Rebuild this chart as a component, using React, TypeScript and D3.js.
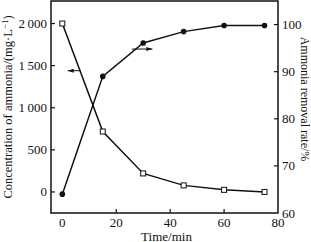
import { useEffect, useRef } from 'react';
import * as d3 from 'd3';

const times = [0, 15, 30, 45, 60, 75];
const concentration = [2000, 718, 220, 78, 25, 0];
const removalRate = [64, 89, 96.1, 98.5, 99.8, 99.8];
const xTicks = [0, 20, 40, 60, 80];
const leftTicks = [0, 500, 1000, 1500, 2000];
const rightTicks = [60, 70, 80, 90, 100];

const App = () => {
    const svgRef = useRef<SVGSVGElement>(null);
    const width = 311;
    const height = 242;
    const plot = { left: 51, right: 278, top: 1, bottom: 213 };

    useEffect(() => {
        const svg = d3.select(svgRef.current);
        svg.selectAll('*').remove();
        const font = '"Liberation Serif", "Times New Roman", serif';
        const ink = '#111';

        const x = d3.scaleLinear().domain([-4.2, 80]).range([plot.left, plot.right]);
        const yL = d3.scaleLinear().domain([-250, 2250]).range([plot.bottom, plot.top + 1.5]);
        const yR = d3.scaleLinear().domain([60, 105]).range([plot.bottom, plot.top]);

        svg.append('rect').attr('width', width).attr('height', height).attr('fill', '#fff');

        // frame
        svg.append('rect')
            .attr('x', plot.left).attr('y', plot.top)
            .attr('width', plot.right - plot.left).attr('height', plot.bottom - plot.top)
            .attr('fill', 'none').attr('stroke', ink).attr('stroke-width', 1.5);

        // x ticks
        xTicks.forEach(t => {
            if (t > 0 && t < 80) {
                svg.append('line').attr('x1', x(t)).attr('x2', x(t))
                    .attr('y1', plot.bottom).attr('y2', plot.bottom - 4)
                    .attr('stroke', ink).attr('stroke-width', 1.2);
            }
            svg.append('text').attr('x', x(t)).attr('y', plot.bottom + 14)
                .attr('text-anchor', 'middle').attr('font-family', font).attr('font-size', 13)
                .attr('fill', ink).text(t);
        });

        const fmt = (v: number) => v >= 1000 ? `${Math.floor(v / 1000)}\u2009${String(v % 1000).padStart(3, '0')}` : String(v);
        leftTicks.forEach(t => {
            svg.append('line').attr('x1', plot.left).attr('x2', plot.left + 4)
                .attr('y1', yL(t)).attr('y2', yL(t)).attr('stroke', ink).attr('stroke-width', 1.2);
            svg.append('text').attr('x', plot.left - 4).attr('y', yL(t) + 4.5)
                .attr('text-anchor', 'end').attr('font-family', font).attr('font-size', 13)
                .attr('fill', ink).text(fmt(t));
        });

        rightTicks.forEach(t => {
            if (t > 60) {
                svg.append('line').attr('x1', plot.right).attr('x2', plot.right - 4)
                    .attr('y1', yR(t)).attr('y2', yR(t)).attr('stroke', ink).attr('stroke-width', 1.2);
            }
            svg.append('text').attr('x', plot.right + 4).attr('y', yR(t) + 4.5)
                .attr('text-anchor', 'start').attr('font-family', font).attr('font-size', 13)
                .attr('fill', ink).text(t);
        });

        // axis titles
        svg.append('text')
            .attr('transform', `translate(12,${(plot.top + plot.bottom) / 2}) rotate(-90)`)
            .attr('text-anchor', 'middle').attr('font-family', font).attr('font-size', 12.5).attr('fill', ink)
            .html('Concentration of ammonia/(mg·L<tspan dy="-4" font-size="9">−1</tspan><tspan dy="4">)</tspan>');
        svg.append('text')
            .attr('transform', `translate(300.5,${(plot.top + plot.bottom) / 2 - 8}) rotate(90)`)
            .attr('text-anchor', 'middle').attr('font-family', font).attr('font-size', 12).attr('fill', ink)
            .text('Ammonia removal rate/%');
        svg.append('text').attr('x', (plot.left + plot.right) / 2 + 2).attr('y', 240.5)
            .attr('text-anchor', 'middle').attr('font-family', font).attr('font-size', 13).attr('fill', ink)
            .text('Time/min');

        const conc = times.map((t, i) => ({ t, v: concentration[i] }));
        const rate = times.map((t, i) => ({ t, v: removalRate[i] }));

        const lineL = d3.line<{ t: number, v: number }>().x(d => x(d.t)).y(d => yL(d.v));
        const lineR = d3.line<{ t: number, v: number }>().x(d => x(d.t)).y(d => yR(d.v));

        svg.append('path').attr('d', lineL(conc)).attr('fill', 'none').attr('stroke', ink).attr('stroke-width', 1.5);
        svg.append('path').attr('d', lineR(rate)).attr('fill', 'none').attr('stroke', ink).attr('stroke-width', 1.5);

        svg.selectAll('.sq').data(conc).enter().append('rect')
            .attr('x', d => x(d.t) - 2.5).attr('y', d => yL(d.v) - 2.5)
            .attr('width', 5).attr('height', 5)
            .attr('fill', '#fff').attr('stroke', ink).attr('stroke-width', 1);
        svg.selectAll('.dot').data(rate).enter().append('circle')
            .attr('cx', d => x(d.t)).attr('cy', d => yR(d.v)).attr('r', 2.8)
            .attr('fill', ink);

        // arrows indicating which axis
        const arrow = (x1: number, x2: number, y: number) => {
            svg.append('line').attr('x1', x1).attr('x2', x2).attr('y1', y).attr('y2', y)
                .attr('stroke', ink).attr('stroke-width', 1);
            const dir = Math.sign(x2 - x1);
            svg.append('path')
                .attr('d', `M${x2},${y} L${x2 - dir * 6},${y - 2} L${x2 - dir * 6},${y + 2} Z`)
                .attr('fill', ink);
        };
        arrow(x(6.8), x(2), yL(1440));
        arrow(x(25.8), x(33.4), yR(94.8));
    }, []);

    return (
        <svg ref={svgRef} width={width} height={height}
            style={{ position: 'absolute', left: 0, top: 0, display: 'block' }} />
    );
};

export default App;
